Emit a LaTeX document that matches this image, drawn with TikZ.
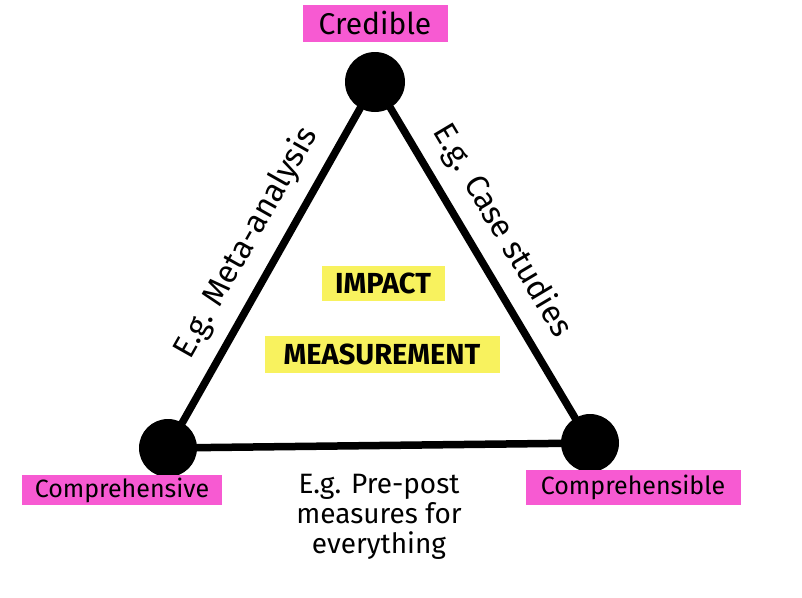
\documentclass[tikz,border=0pt]{standalone}
\usepackage{fontspec}
\setmainfont{Fira Sans}
\usepackage{tikz}
\usetikzlibrary{positioning}
\definecolor{triapink}{HTML}{F75AD2}
\definecolor{triayellow}{HTML}{F8F25E}
\tikzset{
  vertex/.style={circle, fill=black, minimum size=58pt, inner sep=0pt},
  edge/.style={line width=7.5pt, line cap=round, draw=black},
  pinktag/.style={fill=triapink, font=\fontsize{25}{28}\selectfont, inner sep=0pt},
  yellowtag/.style={fill=triayellow, font=\bfseries\fontsize{29}{32}\selectfont, inner sep=0pt},
  lbl/.style={font=\fontsize{28}{30}\selectfont, align=center},
  sidelbl/.style={lbl, font=\fontsize{32}{34}\selectfont, sloped, above=10pt},
}

\begin{document}
\begin{tikzpicture}[x=1pt, y=-1pt]
  \useasboundingbox (0,0) rectangle (802,597);
  % corners
  \node[vertex, minimum size=60pt] (top) at (375,82) {};
  \node[vertex] (bl) at (168,448) {};
  \node[vertex] (br) at (590,443) {};

  % corner tags
  \node[pinktag, font=\fontsize{30}{32}\selectfont, minimum width=145pt,
        minimum height=37pt, above=10pt of top] (cred) {Credible};
  \node[pinktag, minimum width=200pt, minimum height=30pt,
        below=-2pt of bl, xshift=-46pt] (compv) {Comprehensive};
  \node[pinktag, minimum width=215pt, minimum height=35pt,
        below=-2pt of br, xshift=43pt] (compb) {Comprehensible};

  % sides
  \draw[edge] (bl) -- node[sidelbl, pos=0.52] {E.g. Meta-analysis} (top);
  \draw[edge] (top) -- node[sidelbl, pos=0.45] {E.g. Case studies} (br);
  \draw[edge] (bl) -- node[lbl, below=22pt]
    {E.g. Pre-post\\ measures for\\ everything} (br);

  % centre
  \node[yellowtag, minimum width=123pt, minimum height=35pt] (imp) at (383,283) {IMPACT};
  \node[yellowtag, minimum width=235pt, minimum height=37pt] (meas) at (382,354) {MEASUREMENT};
\end{tikzpicture}
\end{document}
